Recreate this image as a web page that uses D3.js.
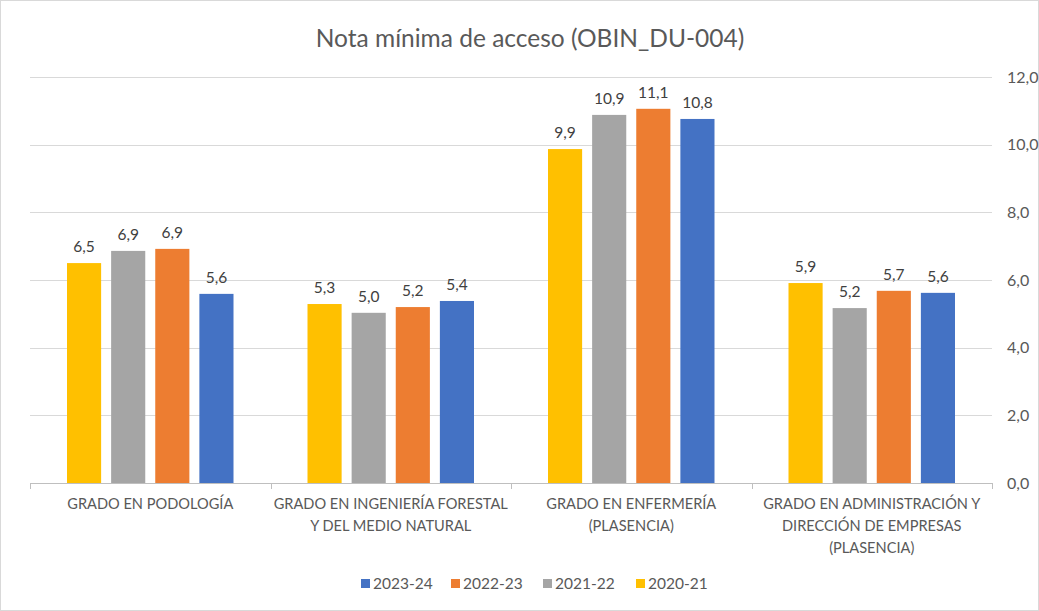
<!DOCTYPE html>
<html><head><meta charset="utf-8">
<script src="https://cdn.jsdelivr.net/npm/d3@7"></script>
<style>body{margin:0;background:#fff}svg{display:block}text{font-family:Lato,"Open Sans",sans-serif}</style>
</head><body>
<svg id="c" width="1039" height="611"></svg>
<script>
const categories = [
  ["GRADO EN PODOLOGÍA"],
  ["GRADO EN INGENIERÍA FORESTAL", "Y DEL MEDIO NATURAL"],
  ["GRADO EN ENFERMERÍA", "(PLASENCIA)"],
  ["GRADO EN ADMINISTRACIÓN Y", "DIRECCIÓN DE EMPRESAS", "(PLASENCIA)"]
];
const seriesNames = ["2020-21", "2021-22", "2022-23", "2023-24"];
const s2020 = [6.50, 5.29, 9.87, 5.91];
const s2021 = [6.86, 5.03, 10.88, 5.17];
const s2022 = [6.92, 5.20, 11.06, 5.68];
const s2023 = [5.59, 5.38, 10.76, 5.62];
const colors = ["#FFC000", "#A5A5A5", "#ED7D31", "#4472C4"];
const yTicks = [0, 2, 4, 6, 8, 10, 12];
const legendOrder = ["2023-24", "2022-23", "2021-22", "2020-21"];
const title = "Nota mínima de acceso (OBIN_DU-004)";

(function(){
const series = [s2020, s2021, s2022, s2023];
const svg = d3.select("#c");
svg.append("rect").attr("x",0.5).attr("y",0.5).attr("width",1038).attr("height",610)
  .attr("fill","#fff").attr("stroke","#d9d9d9");

const pLeft = 30, pRight = 992, pTop = 77, pBottom = 483;
const y = d3.scaleLinear().domain([0, 12]).range([pBottom, pTop]);
const x0 = d3.scaleBand().domain(d3.range(categories.length)).range([pLeft, pRight]).padding(0);
const bw = x0.bandwidth();
const pad = 37, gap = 10;
const x1 = d3.scaleBand().domain(d3.range(seriesNames.length)).range([pad, bw - pad + gap]).padding(0);
const barW = x1.bandwidth() - gap;

svg.append("text").attr("x", 530).attr("y", 47).attr("text-anchor","middle")
  .attr("font-size", 24.5).attr("fill","#595959").text(title);

svg.append("g").selectAll("line").data(yTicks.filter(d=>d>0)).join("line")
  .attr("x1", pLeft).attr("x2", pRight).attr("y1", d=>Math.round(y(d))+0.5).attr("y2", d=>Math.round(y(d))+0.5)
  .attr("stroke","#d9d9d9").attr("stroke-width",1);

const ax = svg.append("g").attr("transform",`translate(${pRight},0)`)
  .call(d3.axisRight(y).tickValues(yTicks).tickSize(0).tickPadding(15).tickFormat(d=>d3.format(".1f")(d).replace(".",",")));
ax.select(".domain").remove();
ax.selectAll("text").attr("font-size",16).attr("fill","#595959").attr("font-family","Lato, sans-serif");

const g = svg.append("g");
categories.forEach((c, i) => {
  series.forEach((s, j) => {
    const xx = x0(i) + x1(j);
    g.append("rect").attr("x", xx).attr("y", y(s[i])).attr("width", barW).attr("height", y(0) - y(s[i]))
      .attr("fill", colors[j]);
    g.append("text").attr("x", xx + barW/2).attr("y", y(s[i]) - 11).attr("text-anchor","middle")
      .attr("font-size",15.5).attr("fill","#404040").text(d3.format(".1f")(s[i]).replace(".",","));
  });
});

svg.append("line").attr("x1", pLeft).attr("x2", pRight).attr("y1", pBottom+0.5).attr("y2", pBottom+0.5)
  .attr("stroke","#bfbfbf");
d3.range(categories.length+1).forEach(i => {
  const xx = Math.round(pLeft + i*bw) + 0.5;
  svg.append("line").attr("x1", xx).attr("x2", xx).attr("y1", pBottom).attr("y2", pBottom+6).attr("stroke","#bfbfbf");
});
categories.forEach((c, i) => {
  const t = svg.append("text").attr("x", x0(i) + bw/2).attr("y", 509).attr("text-anchor","middle")
    .attr("font-size",14.6).attr("fill","#595959");
  c.forEach((line, k) => t.append("tspan").attr("x", x0(i)+bw/2).attr("dy", k===0?0:22).text(line));
});

const lx = [361, 451, 543, 636];
legendOrder.forEach((n, k) => {
  const j = seriesNames.indexOf(n);
  svg.append("rect").attr("x", lx[k]).attr("y", 579).attr("width", 9).attr("height", 9).attr("fill", colors[j]);
  svg.append("text").attr("x", lx[k] + 12).attr("y", 589).attr("font-size",15.5).attr("fill","#595959").text(n);
});
})();
</script>
</body></html>
